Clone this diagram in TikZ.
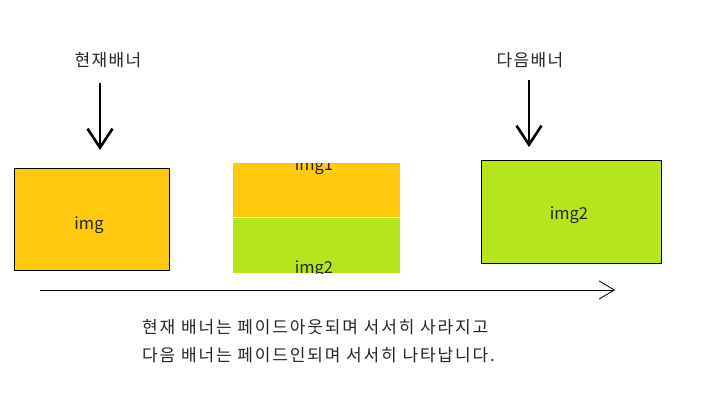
\documentclass[tikz,border=0pt]{standalone}
\usepackage{fontspec}
\setmainfont{Noto Sans CJK KR}[LetterSpace=8]
\newfontfamily\descfont{Noto Sans CJK KR}[LetterSpace=11]
\newfontfamily\latinfont{Noto Sans CJK KR}
\usetikzlibrary{arrows.meta}
\definecolor{paintgold}{RGB}{255,201,14}
\definecolor{paintlime}{RGB}{181,230,29}
\tikzset{
  lbl/.style={font=\fontsize{17}{20}\selectfont, inner sep=0pt, text=black!85},
  desc/.style={font=\descfont\fontsize{17}{20}\selectfont, inner sep=0pt, text=black!85},
  imgtxt/.style={font=\latinfont\fontsize{16.5}{18}\selectfont, inner sep=0pt, text=black!85},
  bigarrow/.style={line width=2.6pt, -{Straight Barb[length=19pt,width=25pt,line width=2.6pt]}},
  timeline/.style={line width=0.8pt, -{Straight Barb[length=15pt,width=18pt,line width=0.8pt]}},
  bannerbox/.style={draw=black, line width=0.9pt}
}
\begin{document}
\begin{tikzpicture}[x=1pt,y=-1pt]
\useasboundingbox (0,0) rectangle (720,401);
% current banner
\node[lbl] (label1) at (108,60) {현재배너};
\coordinate (a1s) at (100,83);
\coordinate (a1e) at (100,150);
\draw[bigarrow] (a1s) -- (a1e);
\path[bannerbox, fill=paintgold] (14,168) rectangle (169,270);
\node[imgtxt] (box1) at (89,225) {img};
% middle transition
\fill[paintgold] (233,163) rectangle (400,217);
\fill[paintlime] (233,218) rectangle (400,273);
\begin{scope}
\clip (233,163) rectangle (400,273);
\node[imgtxt, anchor=base] (mid1) at (314,170) {img1};
\node[imgtxt, anchor=base] (mid2) at (314,273) {img2};
\end{scope}
% next banner
\node[lbl] (label2) at (530,60) {다음배너};
\coordinate (a2s) at (529,80);
\coordinate (a2e) at (529,147);
\draw[bigarrow] (a2s) -- (a2e);
\path[bannerbox, fill=paintlime] (481,160) rectangle (661,263);
\node[imgtxt] (box3) at (569,215) {img2};
% timeline
\coordinate (ts) at (40,290);
\coordinate (te) at (615,290);
\draw[timeline] (ts) -- (te);
% description
\node[desc, anchor=west] (desc1) at (142,327) {현재 배너는 페이드아웃되며 서서히 사라지고};
\node[desc, anchor=west] (desc2) at (142,355) {다음 배너는 페이드인되며 서서히 나타납니다.};
\end{tikzpicture}
\end{document}
